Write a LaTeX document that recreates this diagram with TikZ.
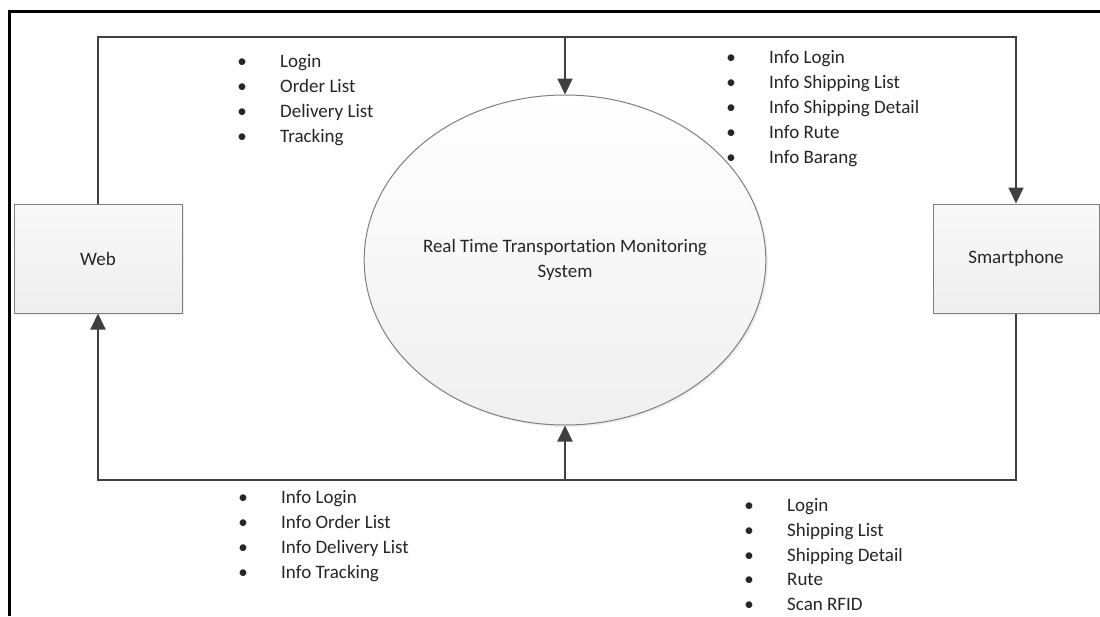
\documentclass[tikz,border=0pt]{standalone}
\usepackage{fontspec}
\setmainfont{Carlito}[Ligatures={NoCommon,NoRequired,NoContextual}]
\usetikzlibrary{arrows.meta,shapes.geometric,shadows}
\definecolor{linegray}{HTML}{404040}
\definecolor{edgegray}{HTML}{7F7F7F}
\definecolor{inkgray}{HTML}{262626}
% bullet centred 38pt to the left of the item text
\newcommand{\blt}{\llap{\makebox[0pt]{\textbullet}\hspace{38pt}}}
\begin{document}
\begin{tikzpicture}[x=1pt,y=-1pt,
  every node/.style={font=\fontsize{19}{25}\selectfont, text=inkgray},
  entity/.style={draw=edgegray, line width=1pt, top color=gray!5, bottom color=gray!13,
    minimum height=109pt, inner sep=0pt,
    drop shadow={shadow xshift=2pt, shadow yshift=-2pt, opacity=0.15}},
  process/.style={ellipse, draw=edgegray, line width=1pt, top color=white, bottom color=gray!12,
    minimum width=314pt, minimum height=330pt, inner sep=0pt, align=center,
    drop shadow={shadow xshift=2pt, shadow yshift=-2pt, opacity=0.12}},
  flow/.style={draw=linegray, line width=2pt},
  flowarrow/.style={flow, -{Triangle[width=15pt,length=16pt]}},
  item/.style={anchor=base west, inner sep=0pt}]
\useasboundingbox (0,0) rectangle (1100,616);
\fill[white] (0,0) rectangle (1100,616);

% outer frame
\draw[line width=3pt, line join=miter] (9.5,616) -- (9.5,11.5) -- (1100,11.5);

% entities and process
\node[entity, minimum width=168pt] (web) at (98,258.5) {Web};
\node[entity, minimum width=166pt] (phone) at (1016,258.5) {Smartphone};
\node[process] (sys) at (565,260) {Real Time Transportation Monitoring\\System};

% bus junctions
\coordinate (topbus) at (565,37);
\coordinate (botbus) at (565,480);

% data flows
\draw[flowarrow] (web.north) |- (topbus) -| (phone.north);
\draw[flowarrow] (topbus) -- (sys.north);
\draw[flowarrow] (phone.south) |- (botbus) -| (web.south);
\draw[flowarrow] (botbus) -- (sys.south);

% flow labels
\foreach \t [count=\i from 0] in {Login, Order List, Delivery List, Tracking}
  \node[item] (wa\i) at (280,67+25*\i) {\blt\t};
\foreach \t [count=\i from 0] in {Info Login, Info Shipping List, Info Shipping Detail, Info Rute, Info Barang}
  \node[item] (pa\i) at (769,63+25*\i) {\blt\t};
\foreach \t [count=\i from 0] in {Info Login, Info Order List, Info Delivery List, Info Tracking}
  \node[item] (wb\i) at (281,503+25*\i) {\blt\t};
\foreach \t [count=\i from 0] in {Login, Shipping List, Shipping Detail, Rute, Scan RFID}
  \node[item] (pb\i) at (787,511.5+24.8*\i) {\blt\t};
\end{tikzpicture}
\end{document}
